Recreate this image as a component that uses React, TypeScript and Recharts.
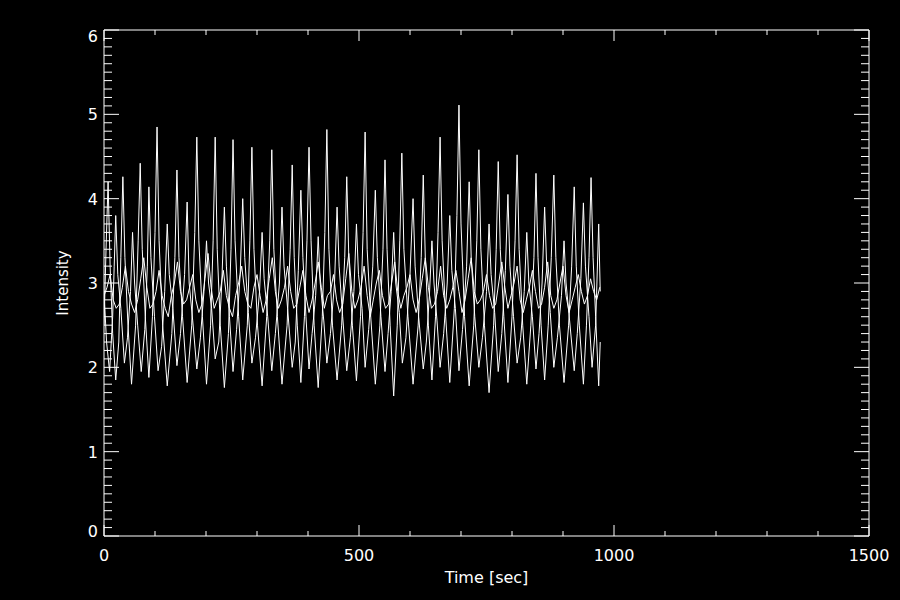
import React from 'react'
import { LineChart, Line, XAxis, YAxis } from 'recharts'

// tall-peak oscillation: time [sec] / intensity
const timeA = [
  0, 4, 8, 12, 17, 23, 29, 33, 37, 41, 47, 54, 62, 67, 71, 75, 81, 88, 95, 100,
  104, 108, 115, 124, 133, 139, 143, 147, 154, 163, 172, 178, 182, 186, 193, 201, 209, 214, 218, 222,
  228, 236, 244, 249, 253, 257, 264, 272, 281, 286, 290, 294, 301, 310, 319, 325, 329, 333, 340, 349,
  359, 365, 369, 373, 379, 386, 393, 398, 402, 406, 412, 420, 428, 433, 437, 441, 448, 457, 466, 472,
  476, 480, 487, 495, 503, 508, 512, 516, 523, 532, 541, 547, 551, 555, 561, 568, 575, 580, 584, 588,
  596, 606, 616, 622, 626, 630, 636, 643, 650, 655, 659, 663, 670, 678, 687, 692, 696, 700, 707, 716,
  725, 731, 735, 739, 746, 755, 764, 769, 773, 777, 784, 792, 800, 806, 810, 814, 821, 829, 837, 843,
  847, 851, 857, 864, 871, 877, 882, 886, 893, 902, 911, 917, 922, 926, 932, 940, 946, 951, 955, 959,
  964, 970, 973
]
const intensityA = [
  2.5, 3.4, 4.2, 3.2, 2.4, 1.85, 2.3, 3.3, 4.26, 3.3, 2.5, 1.8, 2.5, 3.5, 4.42, 3.4, 2.6, 1.88, 2.6, 3.6,
  4.85, 3.5, 2.5, 1.78, 2.4, 3.3, 4.34, 3.3, 2.6, 1.82, 2.5, 3.6, 4.73, 3.5, 2.6, 1.8, 2.5, 3.5, 4.73, 3.4,
  2.5, 1.76, 2.4, 3.4, 4.7, 3.5, 2.6, 1.85, 2.5, 3.5, 4.61, 3.4, 2.5, 1.78, 2.6, 3.5, 4.58, 3.4, 2.6, 1.8,
  2.5, 3.4, 4.4, 3.3, 2.5, 1.82, 2.6, 3.5, 4.61, 3.5, 2.5, 1.76, 2.6, 3.6, 4.82, 3.4, 2.5, 1.85, 2.5, 3.3,
  4.26, 3.3, 2.5, 1.84, 2.6, 3.6, 4.79, 3.4, 2.6, 1.8, 2.5, 3.4, 4.46, 3.4, 2.5, 1.66, 2.5, 3.5, 4.54, 3.4,
  2.6, 1.8, 2.5, 3.3, 4.28, 3.3, 2.5, 1.85, 2.6, 3.6, 4.73, 3.5, 2.6, 1.82, 2.7, 3.8, 5.11, 3.7, 2.6, 1.78,
  2.5, 3.5, 4.58, 3.4, 2.5, 1.7, 2.5, 3.4, 4.44, 3.4, 2.6, 1.82, 2.6, 3.5, 4.52, 3.4, 2.5, 1.8, 2.5, 3.3,
  4.3, 3.3, 2.5, 1.85, 2.5, 3.3, 4.28, 3.3, 2.5, 1.82, 2.5, 3.2, 4.14, 3.2, 2.5, 1.8, 2.5, 3.3, 4.25, 3.3,
  2.6, 1.78, 2.3
]

// second oscillation, roughly out of phase
const timeB = [
  0, 5, 11, 17, 20, 23, 27, 33, 40, 46, 52, 56, 60, 66, 73, 80, 85, 88, 92, 99,
  106, 113, 119, 124, 128, 135, 143, 150, 158, 163, 167, 174, 182, 189, 196, 201, 205, 211, 218, 225,
  231, 236, 240, 246, 253, 260, 267, 272, 276, 283, 290, 297, 305, 310, 314, 321, 329, 336, 344, 349,
  353, 360, 369, 375, 381, 386, 390, 396, 402, 408, 415, 420, 424, 431, 437, 444, 452, 457, 461, 468,
  476, 483, 490, 495, 499, 506, 512, 519, 527, 532, 536, 543, 551, 557, 563, 568, 572, 579, 585, 592,
  600, 606, 610, 617, 626, 632, 638, 643, 647, 653, 659, 666, 673, 678, 682, 689, 696, 703, 711, 716,
  720, 727, 735, 742, 750, 755, 759, 766, 773, 780, 787, 792, 796, 803, 810, 817, 824, 829, 833, 840,
  847, 853, 859, 864, 868, 875, 882, 889, 897, 902, 906, 913, 922, 928, 935, 940, 944, 951, 957, 964,
  970, 973
]
const intensityB = [
  2.9, 2.3, 1.95, 2.6, 3.2, 3.8, 3.1, 2.7, 2.05, 2.35, 2.9, 3.6, 3.0, 2.5, 1.95, 2.45, 3.2, 4.14, 3.3, 2.6,
  1.96, 2.25, 2.9, 3.7, 3.1, 2.7, 2.02, 2.4, 3.1, 3.96, 3.0, 2.55, 1.98, 2.35, 2.9, 3.5, 3.0, 2.7, 2.1, 2.3,
  3.0, 3.9, 3.2, 2.6, 1.95, 2.45, 3.1, 4.0, 3.3, 2.65, 2.05, 2.35, 2.9, 3.6, 3.05, 2.6, 1.96, 2.4, 3.0, 3.9,
  3.2, 2.7, 2.0, 2.3, 3.15, 4.1, 3.3, 2.6, 1.98, 2.4, 2.85, 3.55, 3.0, 2.55, 2.05, 2.4, 3.0, 3.9, 3.2, 2.6,
  1.96, 2.35, 2.9, 3.7, 3.1, 2.7, 2.0, 2.45, 3.2, 4.1, 3.3, 2.6, 1.95, 2.4, 2.9, 3.6, 3.0, 2.65, 2.05, 2.35,
  3.1, 4.0, 3.2, 2.6, 1.98, 2.3, 2.85, 3.5, 3.0, 2.55, 2.0, 2.4, 3.0, 3.8, 3.15, 2.7, 1.96, 2.45, 3.2, 4.2,
  3.3, 2.6, 2.0, 2.35, 2.9, 3.7, 3.1, 2.65, 1.95, 2.4, 3.15, 4.05, 3.2, 2.6, 2.05, 2.35, 2.9, 3.6, 3.0, 2.6,
  1.98, 2.4, 3.0, 3.9, 3.2, 2.65, 2.0, 2.35, 2.85, 3.5, 3.0, 2.55, 1.96, 2.4, 3.05, 3.95, 3.2, 2.6, 2.0, 2.5,
  3.7, 2.9
]

// noisy middle band, one sample every 6 sec
const stepC = 6
const intensityC = [
  2.85, 2.95, 3.10, 2.80, 2.70, 2.75, 2.95, 3.20, 2.90, 2.75,
  2.65, 2.80, 3.05, 3.30, 2.95, 2.70, 2.75, 2.90, 3.15, 2.85,
  2.70, 2.60, 2.85, 3.00, 3.25, 2.90, 2.75, 2.80, 2.95, 3.10,
  2.80, 2.65, 2.75, 3.05, 3.35, 2.95, 2.70, 2.80, 2.90, 3.15,
  2.85, 2.70, 2.60, 2.85, 3.00, 3.20, 2.90, 2.75, 2.70, 2.95,
  3.10, 2.85, 2.65, 2.80, 3.05, 3.30, 2.90, 2.70, 2.80, 2.95,
  3.20, 2.90, 2.70, 2.75, 2.95, 3.15, 2.85, 2.65, 2.80, 3.00,
  3.25, 2.95, 2.70, 2.85, 2.90, 3.10, 2.80, 2.65, 2.75, 3.05,
  3.35, 2.90, 2.70, 2.80, 2.95, 3.20, 2.85, 2.60, 2.80, 3.00,
  3.15, 2.85, 2.70, 2.75, 3.00, 3.25, 2.90, 2.70, 2.85, 2.95,
  3.10, 2.80, 2.65, 2.80, 3.05, 3.30, 2.95, 2.70, 2.75, 2.90,
  3.20, 2.85, 2.70, 2.80, 2.95, 3.15, 2.90, 2.65, 2.80, 3.05,
  3.30, 2.90, 2.75, 2.80, 2.90, 3.10, 2.85, 2.70, 2.75, 3.00,
  3.25, 2.95, 2.70, 2.85, 3.00, 3.20, 2.80, 2.65, 2.80, 2.95,
  3.15, 2.90, 2.70, 2.75, 2.95, 3.25, 2.85, 2.70, 2.80, 3.00,
  3.20, 2.85, 2.65, 2.80, 2.95, 3.10, 2.90, 2.75, 2.85, 3.05,
  2.90, 2.80, 2.95
]

const xTicks = [0, 100, 200, 300, 400, 500, 600, 700, 800, 900, 1000, 1100, 1200, 1300, 1400, 1500]
const xMajor = [0, 500, 1000, 1500]
const yTicks: number[] = []
for (let i = 0; i <= 60; i++) yTicks.push(i / 10)

const seriesA = timeA.map((t, i) => ({ t, v: intensityA[i] }))
const seriesB = timeB.map((t, i) => ({ t, v: intensityB[i] }))
const seriesC = intensityC.map((v, i) => ({ t: i * stepC, v }))

const FONT = '"DejaVu Sans", sans-serif'
const isMajorY = (v: number) => Math.abs(v - Math.round(v)) < 1e-6

function BottomTick(props: any) {
  const { x, y, payload } = props
  const major = xMajor.includes(payload.value)
  return (
    <g>
      <line x1={x} y1={y} x2={x} y2={y - (major ? 11 : 5)} stroke="#fff" />
      {major && (
        <text x={x} y={y + 25} textAnchor="middle" fill="#fff" fontSize={16} fontFamily={FONT}>
          {payload.value}
        </text>
      )}
    </g>
  )
}

function TopTick(props: any) {
  const { x, y, payload } = props
  const major = xMajor.includes(payload.value)
  return <line x1={x} y1={y} x2={x} y2={y + (major ? 11 : 5)} stroke="#fff" />
}

function LeftTick(props: any) {
  const { x, y, payload } = props
  const major = isMajorY(payload.value)
  // IDL pulls the end labels inside the axis range
  const shift = payload.value === 0 ? -5 : payload.value === 6 ? 6 : 0
  return (
    <g>
      <line x1={x} y1={y} x2={x + (major ? 15 : 8)} y2={y} stroke="#fff" />
      {major && (
        <text x={x - 6} y={y + 6 + shift} textAnchor="end" fill="#fff" fontSize={16} fontFamily={FONT}>
          {Math.round(payload.value)}
        </text>
      )}
    </g>
  )
}

function RightTick(props: any) {
  const { x, y, payload } = props
  const major = isMajorY(payload.value)
  return <line x1={x} y1={y} x2={x - (major ? 15 : 8)} y2={y} stroke="#fff" />
}

function YLabel(props: any) {
  const { viewBox } = props
  const cx = viewBox.x + 68
  const cy = viewBox.y + viewBox.height / 2
  return (
    <text x={cx} y={cy} transform={`rotate(-90, ${cx}, ${cy})`} textAnchor="middle"
      fill="#fff" fontSize={15} fontFamily={FONT}>
      Intensity
    </text>
  )
}

export default function App() {
  return (
    <div style={{ width: 900, height: 600, background: '#000' }}>
      <style>{'body { margin: 0; background: #000; }'}</style>
      <LineChart width={900} height={600} margin={{ top: 29, right: 30, left: 0, bottom: 0 }}>
        <XAxis xAxisId="x" dataKey="t" type="number" domain={[0, 1500]} allowDataOverflow
          ticks={xTicks} interval={0} tickSize={0} tickMargin={0} height={64}
          axisLine={{ stroke: '#fff' }} tickLine={false} tick={<BottomTick />}
          label={{ value: 'Time [sec]', position: 'insideBottom', offset: 17, fill: '#fff', fontSize: 16, fontFamily: FONT }} />
        <XAxis xAxisId="top" dataKey="t" orientation="top" type="number" domain={[0, 1500]} allowDataOverflow
          ticks={xTicks} interval={0} tickSize={0} tickMargin={0} height={1}
          axisLine={{ stroke: '#fff' }} tickLine={false} tick={<TopTick />} />
        <YAxis yAxisId="y" type="number" domain={[0, 6]} allowDataOverflow
          ticks={yTicks} interval={0} tickSize={0} tickMargin={0} width={104}
          axisLine={{ stroke: '#fff' }} tickLine={false} tick={<LeftTick />}
          label={{ content: <YLabel /> }} />
        <YAxis yAxisId="right" orientation="right" type="number" domain={[0, 6]} allowDataOverflow
          ticks={yTicks} interval={0} tickSize={0} tickMargin={0} width={1}
          axisLine={{ stroke: '#fff' }} tickLine={false} tick={<RightTick />} />
        <Line xAxisId="x" yAxisId="y" data={seriesC} dataKey="v" type="linear" stroke="#fff"
          strokeWidth={1} dot={false} isAnimationActive={false} />
        <Line xAxisId="x" yAxisId="y" data={seriesB} dataKey="v" type="linear" stroke="#fff"
          strokeWidth={1} dot={false} isAnimationActive={false} />
        <Line xAxisId="x" yAxisId="y" data={seriesA} dataKey="v" type="linear" stroke="#fff"
          strokeWidth={1} dot={false} isAnimationActive={false} />
        {/* invisible copy so the mirrored top/right frame axes get drawn */}
        <Line xAxisId="top" yAxisId="right" data={seriesA} dataKey="v" type="linear" stroke="none"
          dot={false} activeDot={false} isAnimationActive={false} />
      </LineChart>
    </div>
  )
}
